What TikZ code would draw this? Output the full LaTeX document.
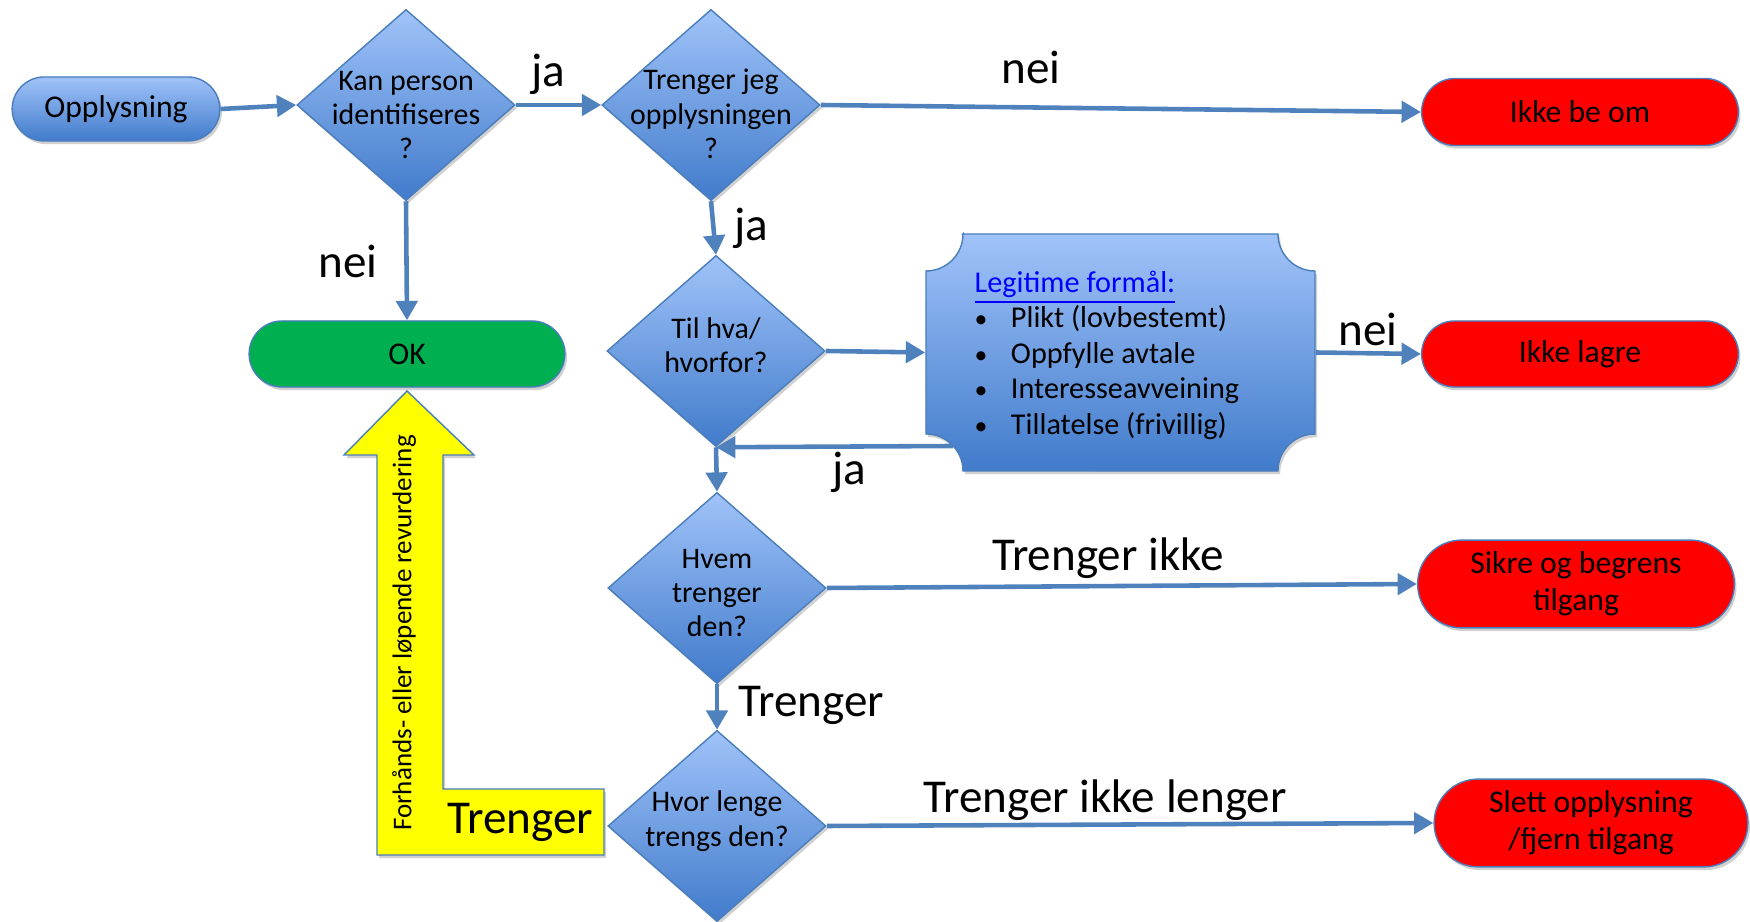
\documentclass[tikz,border=0pt]{standalone}
\usepackage{fontspec}
\setmainfont{Carlito}
\usetikzlibrary{arrows.meta,positioning,shapes.geometric,shapes.misc,shadows}

\definecolor{pilblaa}{HTML}{4F81BD}
\definecolor{lysblaa}{HTML}{A0C3F9}
\definecolor{morkblaa}{HTML}{417BCB}
\definecolor{kant}{HTML}{4A7EBB}
\definecolor{rod}{HTML}{FF0000}
\definecolor{gronn}{HTML}{00B050}
\definecolor{gul}{HTML}{FFFF00}
\definecolor{lenke}{HTML}{0000FF}

\newcommand{\punkt}{\makebox[1.2em][l]{\scalebox{0.85}{\textbullet}}}

\tikzset{
  skygge/.style={drop shadow={shadow xshift=0.6pt, shadow yshift=-0.9pt, opacity=0.3, fill=black!60}},
  valg/.style={diamond, draw=kant, top color=lysblaa, bottom color=morkblaa,
    minimum width=2.18cm, minimum height=1.91cm, inner sep=0pt, skygge},
  valgtekst/.style={font=\fontsize{8.5}{9.8}\selectfont, align=center},
  start/.style={rounded rectangle, draw=kant, top color=lysblaa, bottom color=morkblaa,
    font=\fontsize{9}{10.5}\selectfont, skygge},
  slutt/.style={rounded rectangle, draw=kant, fill=rod, align=center,
    minimum width=3.40cm, font=\fontsize{9}{10.5}\selectfont, skygge},
  pil/.style={draw=pilblaa, line width=1.3pt, -{Triangle[width=6pt,length=5.5pt]}},
  svar/.style={font=\fontsize{13.4}{15}\selectfont},
}

\begin{document}
\begin{tikzpicture}[x=0.01cm, y=0.01cm]
  \useasboundingbox (0,0) rectangle (1750,-922);

  % venstre kolonne
  \node[start, minimum width=2.31cm, minimum height=0.64cm] (op) at (116,-109) {Opplysning};
  \node[valg, label={[valgtekst, yshift=-0.10cm]center:{Kan person\\identifiseres\\?}}] (d1) at (406,-105) {};
  \node[start, fill=gronn, top color=gronn, bottom color=gronn, minimum width=3.39cm, minimum height=0.66cm] (ok) at (407,-354) {OK};

  % midtkolonne
  \node[valg, label={[valgtekst, yshift=-0.09cm]center:{Trenger jeg\\opplysningen\\?}}] (d2) at (711,-105) {};
  \node[valg, label={[valgtekst, yshift=0.06cm]center:{Til hva/\\hvorfor?}}] (d3) at (716,-351) {};
  \node[valg, label={[valgtekst, yshift=-0.05cm]center:{Hvem\\trenger\\den?}}] (d4) at (717,-588) {};
  \node[valg, label={[valgtekst, yshift=0.05cm]center:{Hvor lenge\\trengs den?}}] (d5) at (717,-826) {};

  % legitime formaal
  \path[draw=kant, top color=lysblaa, bottom color=morkblaa, skygge]
    (963,-234) -- (1278,-234) arc[start angle=180, end angle=270, radius=0.37cm]
    -- (1315,-434) arc[start angle=90, end angle=180, radius=0.37cm]
    -- (963,-471) arc[start angle=0, end angle=90, radius=0.37cm]
    -- (926,-271) arc[start angle=270, end angle=360, radius=0.37cm] -- cycle;
  \node[minimum width=3.89cm, minimum height=2.37cm, inner sep=0pt] (legit) at (1120.5,-352.5) {};
  \node[anchor=west, align=left, inner sep=0pt, font=\fontsize{8.6}{10.1}\selectfont] (legittekst) at (974,-355)
    {{\color{lenke}\underline{Legitime formål:}}\\
     \punkt Plikt (lovbestemt)\\
     \punkt Oppfylle avtale\\
     \punkt Interesseavveining\\
     \punkt Tillatelse (frivillig)};

  % utfall
  \node[slutt, minimum height=0.67cm] (ikkebe) at (1580,-112) {Ikke be om};
  \node[slutt, minimum height=0.66cm] (ikkelagre) at (1580,-354) {Ikke lagre};
  \node[slutt, minimum height=0.82cm] (sikre) at (1576,-584) {Sikre og begrens\\tilgang};
  \node[slutt, minimum width=3.37cm, minimum height=0.84cm] (slett) at (1591,-823) {Slett opplysning\\/fjern tilgang};

  % gul pil tilbake til OK
  \filldraw[draw=kant, fill=gul, skygge] (407,-391) -- (474,-455) -- (443,-455) -- (443,-789)
    -- (604,-789) -- (604,-855) -- (377,-855) -- (377,-455) -- (344,-455) -- cycle;
  \node[rotate=90, font=\fontsize{7.7}{9}\selectfont] (revurd) at (404,-633) {Forhånds- eller løpende revurdering};
  \node[svar] (lgul) at (520,-822) {Trenger};

  % piler
  \foreach \fra/\til in {op.east/d1.west, d1.east/d2.west, d2.east/ikkebe.west,
      d1.south/ok.north, d2.south/d3.north, d3.east/legit.west, legit.east/ikkelagre.west,
      d3.south/d4.north, d4.east/sikre.west, d4.south/d5.north, d5.east/slett.west}
    \draw[pil] (\fra) -- (\til);
  \coordinate (tilbake) at (953,-446);
  \draw[pil] (tilbake) -- (d3.south);

  % svar
  \node[svar] (lja1) at (548,-74) {ja};
  \node[svar] (lnei1) at (1031,-67) {nei};
  \node[svar] (lnei2) at (348,-261) {nei};
  \node[svar] (lja2) at (751,-228) {ja};
  \node[svar] (lnei3) at (1368,-329) {nei};
  \node[svar] (lja3) at (849,-472) {ja};
  \node[svar] (lti) at (1108,-558) {Trenger ikke};
  \node[svar] (ltr) at (811,-705) {Trenger};
  \node[svar] (ltil) at (1105,-800) {Trenger ikke lenger};
\end{tikzpicture}
\end{document}
